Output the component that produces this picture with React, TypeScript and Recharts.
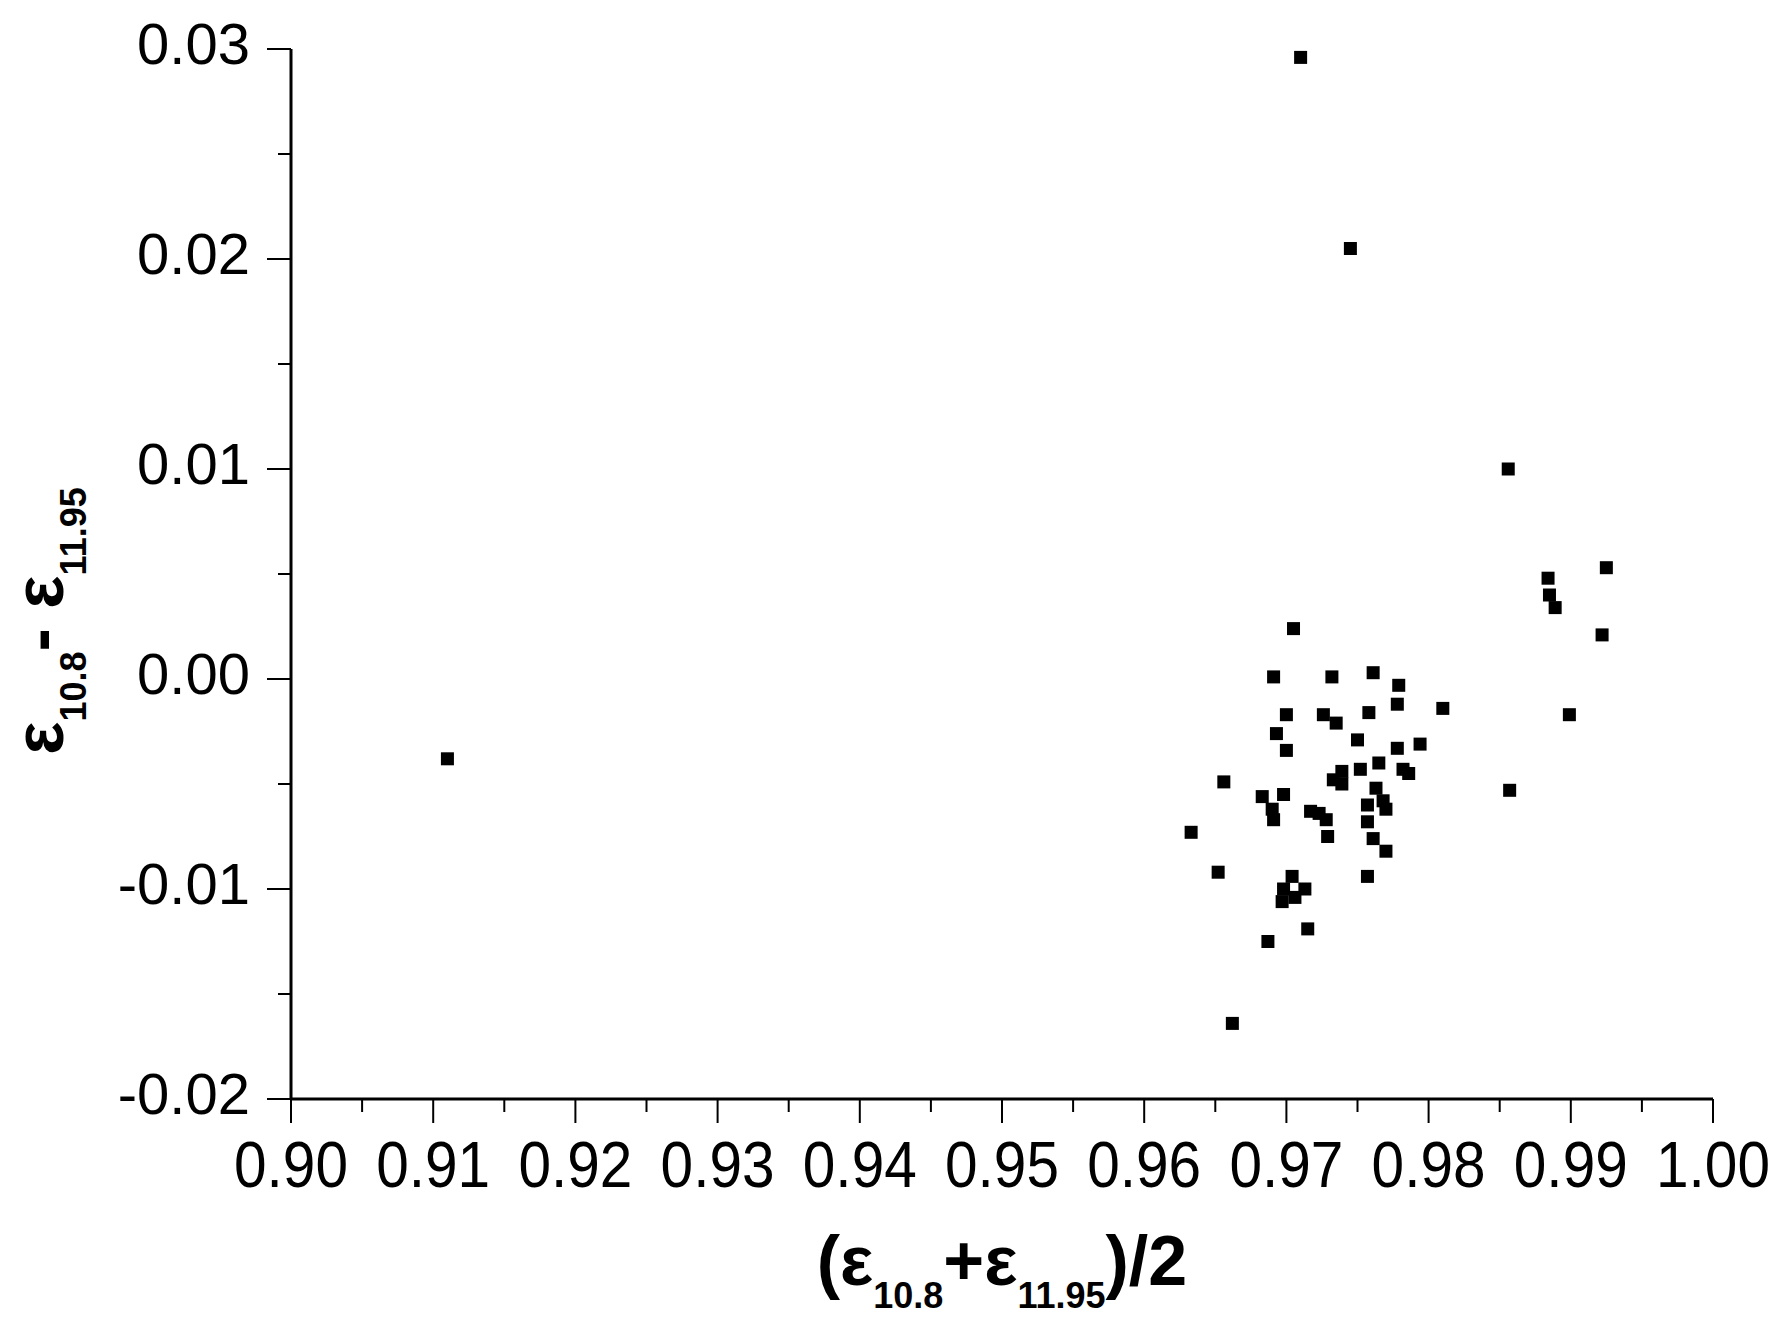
import { Scatter, ScatterChart, XAxis, YAxis } from "recharts";

const FONT = "'Liberation Sans', Arial, sans-serif";

// tick values
const xMajorTicks = [0.9, 0.91, 0.92, 0.93, 0.94, 0.95, 0.96, 0.97, 0.98, 0.99, 1.0];
const xMinorTicks = [0.905, 0.915, 0.925, 0.935, 0.945, 0.955, 0.965, 0.975, 0.985, 0.995];
const yMajorTicks = [-0.02, -0.01, 0, 0.01, 0.02, 0.03];
const yMinorTicks = [-0.015, -0.005, 0.005, 0.015, 0.025];

// (e10.8 + e11.95) / 2
const meanEmissivity = [
  0.911, 0.971, 0.9745, 0.9856, 0.9925, 0.9884, 0.9885, 0.9889, 0.9922, 0.9899, 0.9857, 0.9662,
  0.9705, 0.9691, 0.9732, 0.9761, 0.9779, 0.9778, 0.981, 0.97, 0.9726, 0.9735, 0.9758, 0.9693,
  0.97, 0.975, 0.9778, 0.9794, 0.9765, 0.9752, 0.9739, 0.9733, 0.9739, 0.9782, 0.9786, 0.9656,
  0.9763, 0.9683, 0.9698, 0.9768, 0.9757, 0.977, 0.969, 0.9691, 0.9717, 0.9723, 0.9728, 0.9757,
  0.9633, 0.9729, 0.9761, 0.977, 0.9652, 0.9757, 0.9704, 0.9713, 0.9698, 0.9697, 0.9706, 0.9715,
  0.9687,
];

// e10.8 - e11.95
const emissivityDiff = [
  -0.0038, 0.0296, 0.0205, 0.01, 0.0053, 0.0048, 0.004, 0.0034, 0.0021, -0.0017, -0.0053, -0.0164,
  0.0024, 0.0001, 0.0001, 0.0003, -0.0003, -0.0012, -0.0014, -0.0017, -0.0017, -0.0021, -0.0016, -0.0026,
  -0.0034, -0.0029, -0.0033, -0.0031, -0.004, -0.0043, -0.0044, -0.0048, -0.005, -0.0043, -0.0045, -0.0049,
  -0.0052, -0.0056, -0.0055, -0.0058, -0.006, -0.0062, -0.0062, -0.0067, -0.0063, -0.0064, -0.0067, -0.0068,
  -0.0073, -0.0075, -0.0076, -0.0082, -0.0092, -0.0094, -0.0094, -0.01, -0.01, -0.0106, -0.0104, -0.0119,
  -0.0125,
];

const points = meanEmissivity.map((x, i) => ({ x, y: emissivityDiff[i] }));

const isMajor = (v: number, majors: number[]) => majors.some((m) => Math.abs(m - v) < 1e-9);

function XTick(props: any) {
  const { x, y, payload } = props;
  const major = isMajor(payload.value, xMajorTicks);
  return (
    <g>
      <line x1={x} x2={x} y1={y} y2={y + (major ? 24 : 13)} stroke="#000" strokeWidth={2} />
      {major && (
        <text
          x={x}
          y={y + 88}
          textAnchor="middle"
          fontSize={64}
          fontFamily={FONT}
          textLength={114}
          lengthAdjust="spacingAndGlyphs"
          fill="#000"
        >
          {payload.value.toFixed(2)}
        </text>
      )}
    </g>
  );
}

function YTick(props: any) {
  const { x, y, payload } = props;
  const major = isMajor(payload.value, yMajorTicks);
  return (
    <g>
      <line x1={x - (major ? 24 : 13)} x2={x} y1={y} y2={y} stroke="#000" strokeWidth={2} />
      {major && (
        <text x={x - 41} y={y + 15} textAnchor="end" fontSize={58} fontFamily={FONT} fill="#000">
          {payload.value.toFixed(2)}
        </text>
      )}
    </g>
  );
}

function XTitle(props: any) {
  const vb = props.viewBox || { x: 291, y: 1099, width: 1422, height: 234 };
  return (
    <text
      x={vb.x + vb.width / 2}
      y={vb.y + 186}
      textAnchor="middle"
      fontFamily={FONT}
      fontWeight="bold"
      fontSize={70}
      fill="#000"
    >
      <tspan>(ε</tspan>
      <tspan fontSize={36} dy={23}>10.8</tspan>
      <tspan dy={-23}>+ε</tspan>
      <tspan fontSize={36} dy={23}>11.95</tspan>
      <tspan dy={-23}>)/2</tspan>
    </text>
  );
}

function YTitle(props: any) {
  const vb = props.viewBox || { x: 0, y: 49, width: 291, height: 1050 };
  const cx = vb.x + 63;
  const cy = vb.y + vb.height / 2 + 47;
  return (
    <text
      x={cx}
      y={cy}
      transform={`rotate(-90, ${cx}, ${cy})`}
      textAnchor="middle"
      fontFamily={FONT}
      fontWeight="bold"
      fontSize={70}
      fill="#000"
    >
      <tspan>ε</tspan>
      <tspan fontSize={36} dy={23}>10.8</tspan>
      <tspan dy={-23}>- ε</tspan>
      <tspan fontSize={36} dy={23}>11.95</tspan>
    </text>
  );
}

const SquareDot = (props: any) => {
  const { cx, cy } = props;
  if (cx == null || cy == null) return <g />;
  return <rect x={cx - 6.5} y={cy - 6.5} width={13} height={13} fill="#000" />;
};

export default function App() {
  return (
    <div style={{ position: "absolute", left: 0, top: 0, width: 1788, height: 1333, background: "#fff" }}>
      <ScatterChart width={1788} height={1333} margin={{ top: 49, right: 75, bottom: 0, left: 0 }}>
        <XAxis
          type="number"
          dataKey="x"
          domain={[0.9, 1.0]}
          ticks={[...xMajorTicks, ...xMinorTicks].sort((a, b) => a - b)}
          interval={0}
          height={234}
          tickSize={0}
          tickMargin={0}
          tickLine={false}
          axisLine={{ stroke: "#000", strokeWidth: 3 }}
          tick={<XTick />}
          label={{ content: (p: any) => <XTitle {...p} /> }}
        />
        <YAxis
          type="number"
          dataKey="y"
          domain={[-0.02, 0.03]}
          ticks={[...yMajorTicks, ...yMinorTicks].sort((a, b) => a - b)}
          interval={0}
          width={291}
          tickSize={0}
          tickMargin={0}
          tickLine={false}
          axisLine={{ stroke: "#000", strokeWidth: 3 }}
          tick={<YTick />}
          label={{ content: (p: any) => <YTitle {...p} /> }}
        />
        <Scatter data={points} fill="#000" shape={SquareDot} isAnimationActive={false} />
      </ScatterChart>
    </div>
  );
}
